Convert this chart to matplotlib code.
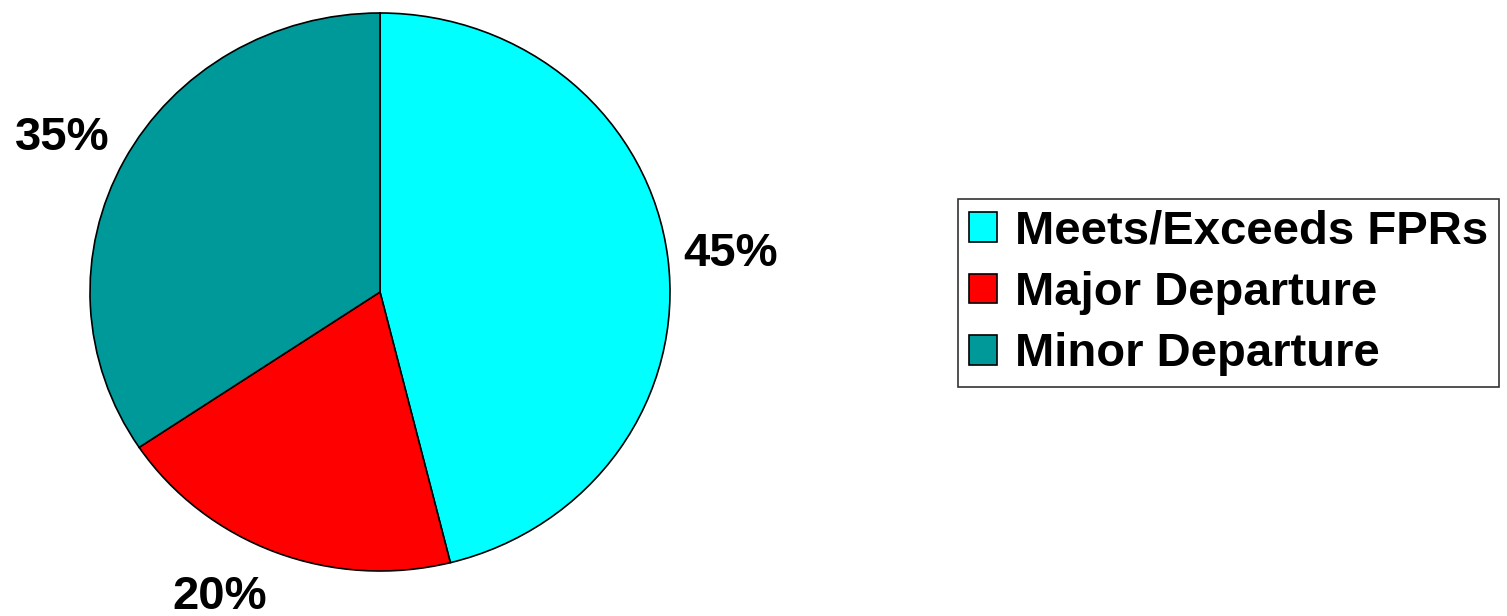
import matplotlib
matplotlib.use("Agg")
import matplotlib.pyplot as plt

categories = ["Meets/Exceeds FPRs", "Major Departure", "Minor Departure"]
shares     = [46.1, 19.5, 34.4]
colors     = ["#00ffff", "#ff0000", "#009999"]
pct_labels = ["45%", "20%", "35%"]
# label positions in pie units (radius = 1)
label_xy   = [(1.21, 0.136), (-0.553, -1.093), (-1.097, 0.552)]

plt.rcParams["font.family"] = ["Liberation Sans", "DejaVu Sans"]

fig = plt.figure(figsize=(15.07, 6.16), dpi=100)
ax = fig.add_axes([90 / 1507, 45 / 616, 580 / 1507, 558 / 616])

wedges, _ = ax.pie(shares, colors=colors, startangle=90, counterclock=False,
                   radius=1, wedgeprops=dict(edgecolor="black", linewidth=1.2))
ax.set_aspect("auto")
ax.set_xlim(-1, 1)
ax.set_ylim(-1, 1)
ax.axis("off")

for txt, (x, y) in zip(pct_labels, label_xy):
    ax.text(x, y, txt, ha="center", va="center", fontsize=34,
            fontweight="bold", clip_on=False)

leg = fig.legend(wedges, categories, loc="center left",
                 bbox_to_anchor=(958 / 1507, 1 - 293 / 616),
                 prop=dict(weight="bold", size=34),
                 frameon=True, fancybox=False, edgecolor="black",
                 handlelength=0.59, handleheight=0.59, handletextpad=0.39,
                 labelspacing=0.37, borderpad=0.23, borderaxespad=0)
leg.get_frame().set_linewidth(1.2)

fig.savefig("out.png", dpi=100)
